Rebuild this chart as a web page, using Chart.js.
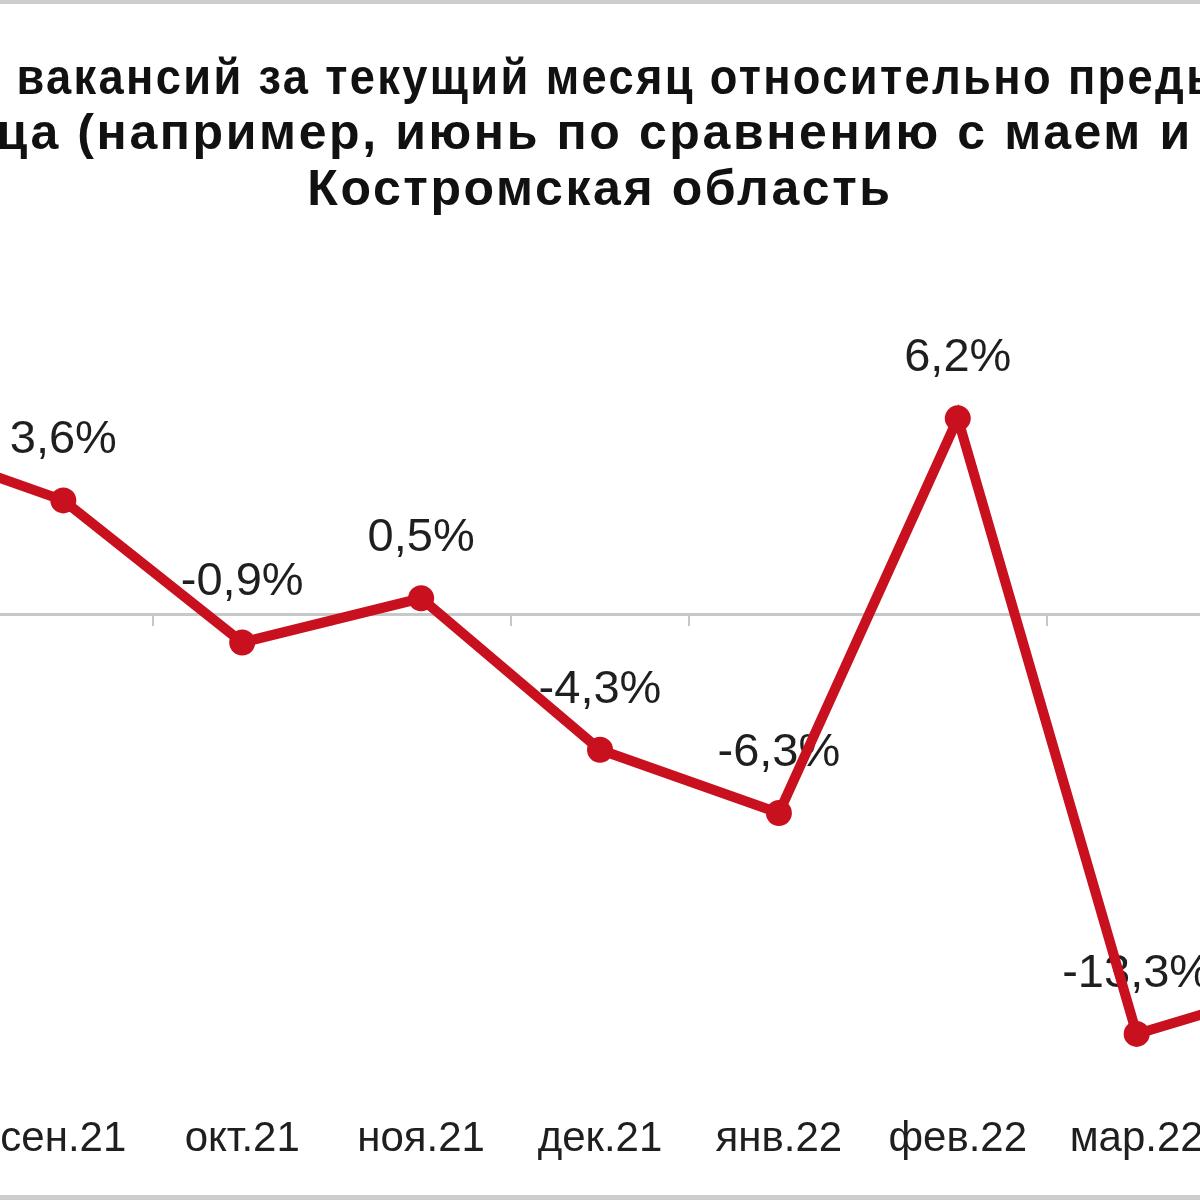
<!DOCTYPE html>
<html>
<head>
<meta charset="utf-8">
<script src="https://cdn.jsdelivr.net/npm/chart.js"></script>
<style>
    body { margin: 0; background: #fff; }
    #wrap { position: relative; width: 1200px; height: 1200px; overflow: hidden; background: #fff; }
    #chart { position: absolute; left: -230px; top: 0; }
    .band { position: absolute; left: 0; width: 1200px; background: #cdcdcd; }
</style>
</head>
<body>
<div id="wrap">
    <canvas id="chart" width="1660" height="1200"></canvas>
    <div class="band" style="top:0;height:4px"></div>
    <div class="band" style="bottom:0;height:5px"></div>
</div>
<script>
const months = ['авг.21', 'сен.21', 'окт.21', 'ноя.21', 'дек.21', 'янв.22', 'фев.22', 'мар.22', 'апр.22'];
const vacancyChange = [5.6, 3.6, -0.9, 0.5, -4.3, -6.3, 6.2, -13.3, -11.6];
const titleLines = [
    'Прирост вакансий за текущий месяц относительно предыдущего',
    'месяца (например, июнь по сравнению с маем и т.д.),',
    'Костромская область'
];

const lineColor = '#c8101e';

// заголовок в оригинале чуть разрежен; подписи оси X рисуются после линий (ticks.z: 1)
const titleSpacing = {
    id: 'title_spacing',
    beforeDraw: (chart) => {
        chart.ctx.letterSpacing = '2.6px';
    },
    beforeDatasetsDraw: (chart) => {
        chart.ctx.letterSpacing = '0px';
    }
};

// подписи значений над точками (рисуем до линии, линия сверху как в оригинале)
const valueLabels = {
    id: 'value_labels',
    beforeDatasetsDraw: (chart) => {
        const ctx = chart.ctx;
        const meta = chart.getDatasetMeta(0);
        ctx.save();
        ctx.font = '47px "Liberation Sans", Arial, sans-serif';
        ctx.fillStyle = '#1f1f1f';
        ctx.textAlign = 'center';
        ctx.textBaseline = 'middle';
        meta.data.forEach((pt, i) => {
            const txt = vacancyChange[i].toFixed(1).replace('.', ',') + '%';
            ctx.fillText(txt, pt.x, pt.y - 60);
        });
        ctx.restore();
    }
};

const bgPlugin = {
    id: 'custom_canvas_background_color',
    beforeDraw: (chart) => {
        const ctx = chart.canvas.getContext('2d');
        ctx.save();
        ctx.globalCompositeOperation = 'destination-over';
        ctx.fillStyle = 'white';
        ctx.fillRect(0, 0, chart.width, chart.height);
        ctx.restore();
    }
};

new Chart(document.getElementById('chart'), {
    type: 'line',
    plugins: [bgPlugin, titleSpacing, valueLabels],
    data: {
        labels: months,
        datasets: [{
            data: vacancyChange,
            borderColor: lineColor,
            backgroundColor: lineColor,
            borderWidth: 10,
            pointRadius: 13,
            pointBackgroundColor: lineColor,
            pointBorderWidth: 0,
            tension: 0,
            xAxisID: 'x',
            clip: false
        }]
    },
    options: {
        responsive: false,
        animation: false,
        layout: {
            padding: { left: 25, right: 25, top: 0, bottom: 8 }
        },
        scales: {
            x: {
                type: 'category',
                position: { y: 0 },
                offset: true,
                grid: {
                    display: true,
                    offset: true,
                    drawOnChartArea: false,
                    drawTicks: true,
                    tickLength: 10,
                    color: '#c8c8c8',
                    lineWidth: 2
                },
                border: { display: true, color: '#c8c8c8', width: 3 },
                ticks: { display: false }
            },
            x2: {
                type: 'category',
                labels: months,
                position: 'bottom',
                offset: true,
                grid: { display: false, drawTicks: false },
                border: { display: false },
                ticks: {
                    z: 1,
                    color: '#1f1f1f',
                    padding: 27,
                    maxRotation: 0,
                    autoSkip: false,
                    font: { family: '"Liberation Sans", Arial, sans-serif', size: 42 }
                }
            },
            y: {
                display: false,
                min: -15,
                max: 8
            }
        },
        plugins: {
            legend: { display: false },
            tooltip: { enabled: false },
            title: {
                display: true,
                text: titleLines,
                color: '#111',
                padding: { top: 52, bottom: 143 },
                font: {
                    family: '"Liberation Sans", Arial, sans-serif',
                    size: 50,
                    weight: 'bold',
                    lineHeight: 1.11
                }
            }
        }
    }
});
</script>
</body>
</html>
